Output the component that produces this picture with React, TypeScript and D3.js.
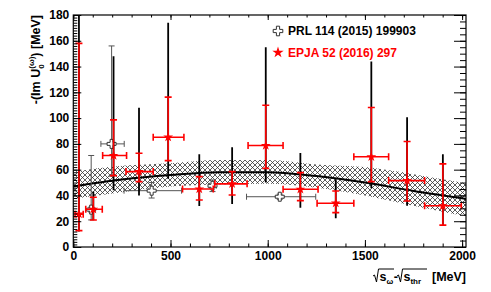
import React, { useEffect, useRef } from "react";
import * as d3 from "d3";

// EPJA 52 (2016) 297 : red stars
const epjaX = [29, 103, 207, 338, 488, 648, 817, 990, 1168, 1350, 1533, 1717, 1901];
const epjaY = [25.5, 29.3, 71, 58.5, 85.2, 45, 49, 78.7, 44.8, 34, 70, 51.5, 32];
const epjaXLo = [9, 64, 151, 271, 411, 562, 728, 899, 1079, 1254, 1443, 1622, 1807];
const epjaXHi = [51, 149, 274, 411, 569, 720, 894, 1079, 1259, 1443, 1622, 1807, 1996];
const epjaStatLo = [12.7, 21, 55.4, 50.7, 67, 36.5, 40.4, 61, 36, 26.7, 50.7, 35.7, 17];
const epjaStatHi = [158, 38.6, 98.6, 72.7, 116.3, 54.6, 58.5, 110, 57.7, 43.5, 108.2, 81.8, 64.5];
const epjaTotLo = [12, 21, 44, 40, 53, 31.8, 33.4, 50, 30.5, 22.3, 45.6, 32, 17];
const epjaTotHi = [195, 43, 148, 108, 174, 72, 77.4, 155, 73, 52.6, 144, 100.7, 72];

// PRL 114 (2015) 199903 : open crosses
const prlX = [92, 197, 403, 716, 1062];
const prlY = [29, 80, 43.7, 47.5, 39];
const prlXLo = [80, 142, 261, 700, 891];
const prlXHi = [105, 262, 557, 735, 1247];
const prlYLo = [21, 55, 38, 43, 37];
const prlYHi = [71, 156, 50, 52, 41];

// fit curve and its uncertainty band
const fitX = [0, 250, 500, 750, 1000, 1250, 1500, 1750, 2000, 2020];
const fitY = [47, 52.3, 55.8, 58, 58, 55, 50, 43.5, 37.8, 37.3];
const bandHi = [58.5, 63, 65, 67.5, 67.5, 64, 62, 56.5, 50, 49.5];
const bandLo = [37.5, 42.5, 47, 48.5, 49, 46, 40, 32, 24.5, 24];

const xMajor = [0, 500, 1000, 1500, 2000];
const yMajor = [0, 20, 40, 60, 80, 100, 120, 140, 160, 180];

const W = 491;
const H = 292;
const L = 73.3;
const R = 466;
const T = 15;
const B = 247;
const FONT = "'Liberation Sans', Arial, Helvetica, sans-serif";

const crossPath = (s: number, a: number) =>
  `M${-a},${-s}L${a},${-s}L${a},${-a}L${s},${-a}L${s},${a}L${a},${a}L${a},${s}L${-a},${s}L${-a},${a}L${-s},${a}L${-s},${-a}L${-a},${-a}Z`;

const Chart = () => {
  const ref = useRef<SVGSVGElement>(null);

  useEffect(() => {
    if (!ref.current) return;
    const svg = d3.select(ref.current);
    svg.selectAll("*").remove();

    const x = d3.scaleLinear().domain([0, 2020]).range([L, R]);
    const y = d3.scaleLinear().domain([0, 180]).range([B, T]);

    const defs = svg.append("defs");
    const pat = defs
      .append("pattern")
      .attr("id", "xhatch")
      .attr("patternUnits", "userSpaceOnUse")
      .attr("width", 5)
      .attr("height", 5);
    pat
      .append("path")
      .attr("d", "M0,0L5,5M0,5L5,0")
      .attr("stroke", "#333")
      .attr("stroke-width", 0.8);
    defs
      .append("clipPath")
      .attr("id", "plotclip")
      .append("rect")
      .attr("x", L)
      .attr("y", T)
      .attr("width", R - L)
      .attr("height", B - T);

    const plot = svg.append("g").attr("clip-path", "url(#plotclip)");

    // band
    const fit = fitX.map((v, i) => ({ x: v, y: fitY[i], lo: bandLo[i], hi: bandHi[i] }));
    const area = d3
      .area<any>()
      .x((d) => x(d.x))
      .y0((d) => y(d.lo))
      .y1((d) => y(d.hi))
      .curve(d3.curveMonotoneX);
    plot.append("path").attr("d", area(fit)).attr("fill", "url(#xhatch)");

    const line = d3
      .line<any>()
      .x((d) => x(d.x))
      .y((d) => y(d.y))
      .curve(d3.curveMonotoneX);
    plot
      .append("path")
      .attr("d", line(fit))
      .attr("fill", "none")
      .attr("stroke", "#000")
      .attr("stroke-width", 2);

    // PRL points
    const grey = "#555";
    prlX.forEach((px, i) => {
      const g = plot.append("g").attr("stroke", grey).attr("stroke-width", 1).attr("fill", "none");
      const cx = x(px);
      const cy = y(prlY[i]);
      g.append("line").attr("x1", cx).attr("x2", cx).attr("y1", y(prlYLo[i])).attr("y2", y(prlYHi[i]));
      g.append("line").attr("x1", x(prlXLo[i])).attr("x2", x(prlXHi[i])).attr("y1", cy).attr("y2", cy);
      [prlYLo[i], prlYHi[i]].forEach((v) =>
        g.append("line").attr("x1", cx - 3).attr("x2", cx + 3).attr("y1", y(v)).attr("y2", y(v))
      );
      [prlXLo[i], prlXHi[i]].forEach((v) =>
        g.append("line").attr("x1", x(v)).attr("x2", x(v)).attr("y1", cy - 3).attr("y2", cy + 3)
      );
      plot
        .append("path")
        .attr("d", crossPath(4.5, 1.5))
        .attr("transform", `translate(${cx},${cy})`)
        .attr("fill", "#fff")
        .attr("stroke", "#333")
        .attr("stroke-width", 1);
    });

    // EPJA points
    const star = d3.symbol().type(d3.symbolStar).size(30);
    epjaX.forEach((px, i) => {
      const cx = x(px);
      const cy = y(epjaY[i]);
      plot
        .append("line")
        .attr("x1", cx)
        .attr("x2", cx)
        .attr("y1", y(epjaTotLo[i]))
        .attr("y2", y(epjaTotHi[i]))
        .attr("stroke", "#000")
        .attr("stroke-width", 1.8);
      const g = plot.append("g").attr("stroke", "#f00").attr("stroke-width", 1.6);
      g.append("line").attr("x1", cx).attr("x2", cx).attr("y1", y(epjaStatLo[i])).attr("y2", y(epjaStatHi[i]));
      g.append("line").attr("x1", x(epjaXLo[i])).attr("x2", x(epjaXHi[i])).attr("y1", cy).attr("y2", cy);
      [epjaStatLo[i], epjaStatHi[i]].forEach((v) =>
        g.append("line").attr("x1", cx - 3.5).attr("x2", cx + 3.5).attr("y1", y(v)).attr("y2", y(v))
      );
      [epjaXLo[i], epjaXHi[i]].forEach((v) =>
        g.append("line").attr("x1", x(v)).attr("x2", x(v)).attr("y1", cy - 3.5).attr("y2", cy + 3.5)
      );
      plot
        .append("path")
        .attr("d", star() as string)
        .attr("transform", `translate(${cx},${cy})`)
        .attr("fill", "#f00");
    });

    // axes
    const axes = svg.append("g");
    const styleAxis = (g: any) => {
      g.select(".domain").remove();
      g.selectAll("line").attr("stroke", "#000").attr("stroke-width", 1);
      g.selectAll("text")
        .attr("font-family", FONT)
        .attr("font-weight", "bold")
        .attr("font-size", 12)
        .attr("fill", "#000");
    };
    const xMinor = d3.range(0, 2001, 100);
    const yMinorL = d3.range(0, 181, 2);
    const yMinorR = d3.range(0, 181, 5);

    axes.append("g").attr("transform", `translate(0,${B})`)
      .call(d3.axisBottom(x).tickValues(xMinor).tickSize(-3.5).tickFormat(() => "")).call(styleAxis);
    axes.append("g").attr("transform", `translate(0,${B})`)
      .call(d3.axisBottom(x).tickValues(xMajor).tickSize(-7).tickPadding(4.5).tickFormat(d3.format("d"))).call(styleAxis);
    axes.append("g").attr("transform", `translate(0,${T})`)
      .call(d3.axisTop(x).tickValues(xMinor).tickSize(-2.5).tickFormat(() => "")).call(styleAxis);
    axes.append("g").attr("transform", `translate(0,${T})`)
      .call(d3.axisTop(x).tickValues(xMajor).tickSize(-5).tickFormat(() => "")).call(styleAxis);

    axes.append("g").attr("transform", `translate(${L},0)`)
      .call(d3.axisLeft(y).tickValues(yMinorL).tickSize(-4).tickFormat(() => "")).call(styleAxis);
    axes.append("g").attr("transform", `translate(${L},0)`)
      .call(d3.axisLeft(y).tickValues(yMajor).tickSize(-8).tickPadding(4).tickFormat(d3.format("d"))).call(styleAxis);
    axes.append("g").attr("transform", `translate(${R},0)`)
      .call(d3.axisRight(y).tickValues(yMinorR).tickSize(-6).tickFormat(() => "")).call(styleAxis);
    axes.append("g").attr("transform", `translate(${R},0)`)
      .call(d3.axisRight(y).tickValues(yMajor).tickSize(-12).tickFormat(() => "")).call(styleAxis);

    svg
      .append("rect")
      .attr("x", L)
      .attr("y", T)
      .attr("width", R - L)
      .attr("height", B - T)
      .attr("fill", "none")
      .attr("stroke", "#000")
      .attr("stroke-width", 1.2);

    // legend
    const lg = svg.append("g").attr("font-family", FONT).attr("font-weight", "bold").attr("font-size", 12);
    lg.append("path")
      .attr("d", crossPath(4.8, 1.6))
      .attr("transform", "translate(278,31)")
      .attr("fill", "#fff")
      .attr("stroke", "#333")
      .attr("stroke-width", 1);
    lg.append("text").attr("x", 288).attr("y", 35.3).attr("fill", "#000").text("PRL 114 (2015) 199903");
    lg.append("path")
      .attr("d", d3.symbol().type(d3.symbolStar).size(40)() as string)
      .attr("transform", "translate(278,52.5)")
      .attr("fill", "#f00");
    lg.append("text").attr("x", 288).attr("y", 57).attr("fill", "#f00").text("EPJA 52 (2016) 297");

    // y title
    const yt = svg
      .append("text")
      .attr("transform", `translate(40,${T}) rotate(-90)`)
      .attr("text-anchor", "end")
      .attr("font-family", FONT)
      .attr("font-weight", "bold")
      .attr("font-size", 12.5)
      .attr("fill", "#000");
    yt.append("tspan").text("-(Im U");
    yt.append("tspan").attr("font-size", 8).attr("dy", 3.5).text("0");
    yt.append("tspan").attr("font-size", 8).attr("dx", -4.4).attr("dy", -9.5).text("(ω)");
    yt.append("tspan").attr("dy", 6).text(") [MeV]");

    // x title
    const xt = svg.append("g").attr("font-family", FONT).attr("font-weight", "bold").attr("fill", "#000");
    const base = 281;
    const rad = (x0: number, x1: number) =>
      xt.append("path")
        .attr("d", `M${x0},${base - 5}L${x0 + 1.5},${base - 6}L${x0 + 3.5},${base + 1}L${x0 + 5.5},${base - 12}L${x1},${base - 12}`)
        .attr("fill", "none")
        .attr("stroke", "#000")
        .attr("stroke-width", 1);
    rad(373, 394);
    rad(397, 427);
    const t1 = xt.append("text").attr("x", 379.5).attr("y", base).attr("font-size", 12.5);
    t1.append("tspan").text("s");
    t1.append("tspan").attr("font-size", 8).attr("dy", 3).text("ω");
    t1.append("tspan").attr("dy", -3).attr("dx", 0.5).text("-");
    const t2 = xt.append("text").attr("x", 403.5).attr("y", base).attr("font-size", 12.5);
    t2.append("tspan").text("s");
    t2.append("tspan").attr("font-size", 8).attr("dy", 3).text("thr");
    xt.append("text").attr("x", R).attr("y", base).attr("text-anchor", "end").attr("font-size", 12.5).text("[MeV]");
  }, []);

  return <svg ref={ref} width={W} height={H} style={{ display: "block" }} />;
};

function App() {
  return (
    <div style={{ position: "absolute", left: 0, top: 0, background: "#fff" }}>
      <Chart />
    </div>
  );
}

export default App;
